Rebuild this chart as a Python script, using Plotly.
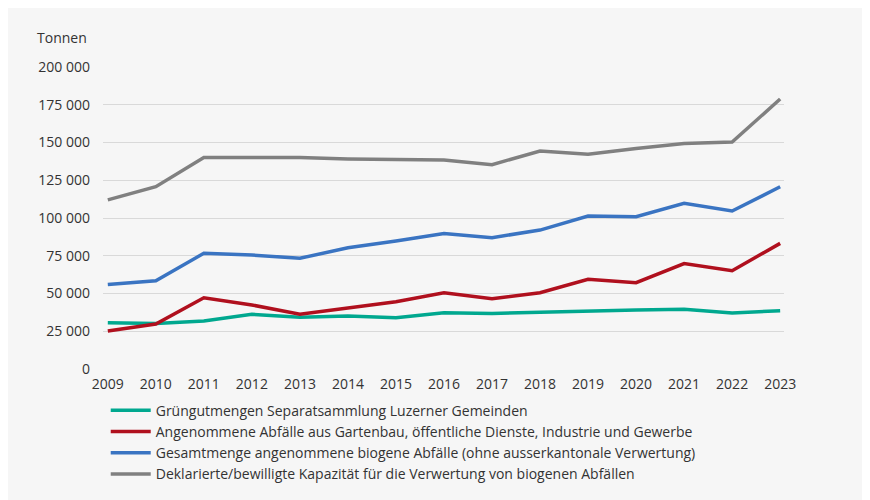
import plotly.graph_objects as go

years = list(range(2009, 2024))
gruengut = [30700, 30200, 31800, 36200, 34200, 35100, 34000, 37300, 36800, 37700, 38600, 39100, 39500, 37100, 38600]
angenommene = [25200, 29800, 47200, 42400, 36200, 40600, 44600, 50500, 46600, 50500, 59400, 57200, 69800, 65100, 83200]
gesamt = [56000, 58500, 76600, 75500, 73300, 80300, 84800, 89800, 87000, 92000, 101300, 100900, 109700, 104600, 120700]
kapazitaet = [112000, 120700, 140000, 140000, 140100, 139100, 139000, 138400, 135300, 144400, 142200, 146100, 149400, 150300, 178800]

names = [
    "Grüngutmengen Separatsammlung Luzerner Gemeinden",
    "Angenommene Abfälle aus Gartenbau, öffentliche Dienste, Industrie und Gewerbe",
    "Gesamtmenge angenommene biogene Abfälle (ohne ausserkantonale Verwertung)",
    "Deklarierte/bewilligte Kapazität für die Verwertung von biogenen Abfällen",
]
series = [gruengut, angenommene, gesamt, kapazitaet]
colors = ["#00a88f", "#b0101e", "#3a74c2", "#808080"]
y_ticks = [0, 25000, 50000, 75000, 100000, 125000, 150000, 175000, 200000]
y_title = "Tonnen"

FONT = "Open Sans, sans-serif"
TXT = "#333333"

fig = go.Figure()
for n, s, c in zip(names, series, colors):
    fig.add_trace(go.Scatter(x=years, y=s, name=n, mode="lines",
                             line=dict(color=c, width=3.5), hoverinfo="x+y"))

fig.update_layout(
    width=855, height=492,
    margin=dict(l=95, r=79, t=59, b=131, autoexpand=False),
    paper_bgcolor="#f6f6f6", plot_bgcolor="#f6f6f6",
    separators=". ",
    font=dict(family=FONT, size=14, color=TXT),
    showlegend=True,
    legend=dict(orientation="v", x=0.004, xanchor="left",
                yref="container", y=0.214, yanchor="top",
                bgcolor="rgba(0,0,0,0)", font=dict(size=14, color=TXT),
                tracegroupgap=0, itemwidth=40),
    xaxis=dict(range=[2008.9, 2023.08], tickmode="array", tickvals=years,
               showgrid=False, zeroline=False, showline=False, ticks="",
               ticklabelstandoff=5, fixedrange=True),
    yaxis=dict(range=[0, 200000], tickmode="array", tickvals=y_ticks,
               tickformat=",d", gridcolor="#d9d9d9", gridwidth=1,
               zeroline=False, showline=False, ticks="", ticklabelstandoff=12,
               fixedrange=True),
    annotations=[dict(text=y_title, xref="paper", yref="paper", x=-0.021, y=1.06,
                      xanchor="right", yanchor="bottom", showarrow=False,
                      font=dict(size=14, color=TXT))],
)

fig.write_html("out.html")
